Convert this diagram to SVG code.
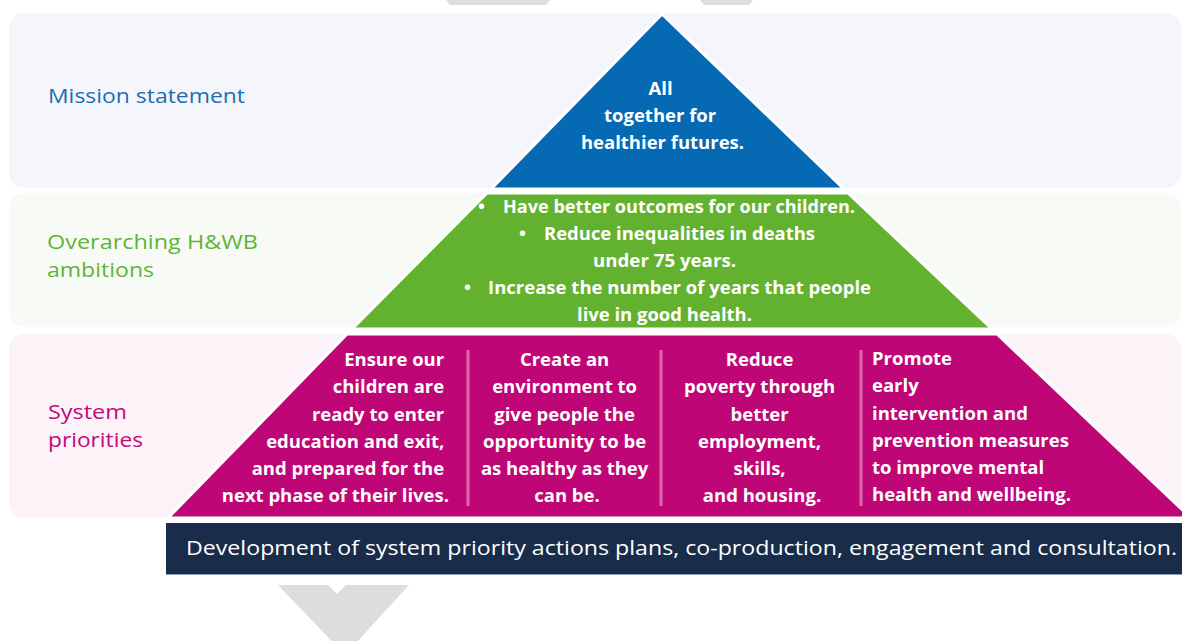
<svg xmlns="http://www.w3.org/2000/svg" width="1182" height="641" viewBox="0 0 1182 641">
  <style>
    .panel-blue { fill: #f4f6fb; }
    .panel-green { fill: #f8faf5; }
    .panel-pink { fill: #fbf3f8; }
    .label { font-family: "Open Sans", "Noto Sans", sans-serif; font-size: 20px; font-weight: 500; }
    .tier { font-family: "Open Sans", "Noto Sans", sans-serif; font-size: 18.5px; font-weight: 700; fill: #ffffff; }
    .band { stroke: #ffffff; stroke-width: 3; stroke-linejoin: miter; }
    .divider { stroke: #d86aaa; stroke-width: 3; }
    .chevron { fill: #dddddd; }
  </style>

  <rect width="1182" height="641" fill="#ffffff"/>

  <!-- flow chevrons behind the pyramid -->
  <g id="connectors">
    <polygon class="chevron" points="446,0 550,0 546,5 450,5"/>
    <polygon class="chevron" points="700,0 753,0 749,5 704,5"/>
    <polygon class="chevron" points="278,585 328,585 337,594 346,585 409,585 345,655"/>
  </g>

  <!-- background rows -->
  <g id="rows">
    <rect class="panel-blue" x="9" y="13" width="1172" height="175" rx="15"/>
    <rect class="panel-green" x="9" y="193" width="1172" height="134" rx="15"/>
    <rect class="panel-pink" x="9" y="334" width="1172" height="184" rx="15"/>
  </g>

  <!-- tier 1: mission -->
  <g id="mission">
    <text class="label" x="48" y="103" fill="#1b6db4" textLength="197" lengthAdjust="spacingAndGlyphs">Mission statement</text>
    <polygon class="band" points="662,14 844,189 491,189" fill="#0569b4"/>
    <text class="tier" text-anchor="middle">
      <tspan x="663" y="95">All</tspan>
      <tspan x="662.5" y="122">together for</tspan>
      <tspan x="662.5" y="149">healthier futures.</tspan>
    </text>
  </g>

  <!-- tier 2: ambitions -->
  <g id="ambitions">
    <text class="label" fill="#5db535">
      <tspan x="47" y="249" textLength="211" lengthAdjust="spacingAndGlyphs">Overarching H&amp;WB</tspan>
      <tspan x="47" y="277" textLength="107" lengthAdjust="spacingAndGlyphs">ambitions</tspan>
    </text>
    <polygon class="band" points="487,193 848,193 992,329 352,329" fill="#63b22f"/>
    <text class="tier"><tspan x="478" y="213">•</tspan><tspan x="503" y="213" textLength="352" lengthAdjust="spacingAndGlyphs">Have better outcomes for our children.</tspan></text>
    <text class="tier"><tspan x="519" y="240">•</tspan><tspan x="544" y="240" textLength="271" lengthAdjust="spacingAndGlyphs">Reduce inequalities in deaths</tspan></text>
    <text class="tier" x="593" y="267" textLength="143" lengthAdjust="spacingAndGlyphs">under 75 years.</text>
    <text class="tier"><tspan x="464" y="294">•</tspan><tspan x="488" y="294" textLength="383" lengthAdjust="spacingAndGlyphs">Increase the number of years that people</tspan></text>
    <text class="tier" x="577" y="321" textLength="175" lengthAdjust="spacingAndGlyphs">live in good health.</text>
  </g>

  <!-- tier 3: system priorities -->
  <g id="priorities">
    <text class="label" fill="#c0097c">
      <tspan x="48" y="419" textLength="79" lengthAdjust="spacingAndGlyphs">System</tspan>
      <tspan x="48" y="447" textLength="95" lengthAdjust="spacingAndGlyphs">priorities</tspan>
    </text>
    <polygon class="band" points="347,334 997,334 1191,518 168,518" fill="#bf0677"/>
    <line class="divider" x1="468" y1="350" x2="468" y2="506"/>
    <line class="divider" x1="661" y1="350" x2="661" y2="506"/>
    <line class="divider" x1="861" y1="350" x2="861" y2="506"/>

    <g id="priority-children">
      <text class="tier" text-anchor="end">
        <tspan x="449" y="366">Ensure our</tspan>
        <tspan x="449" y="393">children are</tspan>
        <tspan x="449" y="420.5">ready to enter</tspan>
        <tspan x="449" y="447.5">education and exit,</tspan>
        <tspan x="449" y="475">and prepared for the</tspan>
        <tspan x="449" y="502">next phase of their lives.</tspan>
      </text>
    </g>
    <g id="priority-environment">
      <text class="tier" text-anchor="middle">
        <tspan x="567" y="366">Create an</tspan>
        <tspan x="567" y="393">environment to</tspan>
        <tspan x="567" y="420.5">give people the</tspan>
        <tspan x="567" y="447.5">opportunity to be</tspan>
        <tspan x="567" y="475">as healthy as they</tspan>
        <tspan x="567" y="502">can be.</tspan>
      </text>
    </g>
    <g id="priority-poverty">
      <text class="tier" text-anchor="middle">
        <tspan x="762" y="366">Reduce</tspan>
        <tspan x="762" y="393">poverty through</tspan>
        <tspan x="762" y="420.5">better</tspan>
        <tspan x="762" y="447.5">employment,</tspan>
        <tspan x="762" y="475">skills,</tspan>
        <tspan x="762" y="502">and housing.</tspan>
      </text>
    </g>
    <g id="priority-mental-health">
      <text class="tier">
        <tspan x="872" y="365">Promote</tspan>
        <tspan x="872" y="392">early</tspan>
        <tspan x="872" y="419.5">intervention and</tspan>
        <tspan x="872" y="446.5">prevention measures</tspan>
        <tspan x="872" y="474">to improve mental</tspan>
        <tspan x="872" y="501">health and wellbeing.</tspan>
      </text>
    </g>
  </g>

  <!-- foundation bar -->
  <g id="development">
    <rect x="166" y="523" width="1020" height="51" fill="#192c4a"/>
    <line x1="166" y1="574.5" x2="1182" y2="574.5" stroke="#8fa0b2" stroke-width="1"/>
    <text class="label" x="186" y="555" fill="#ffffff" textLength="991" lengthAdjust="spacingAndGlyphs">Development of system priority actions plans, co-production, engagement and consultation.</text>
  </g>
</svg>
